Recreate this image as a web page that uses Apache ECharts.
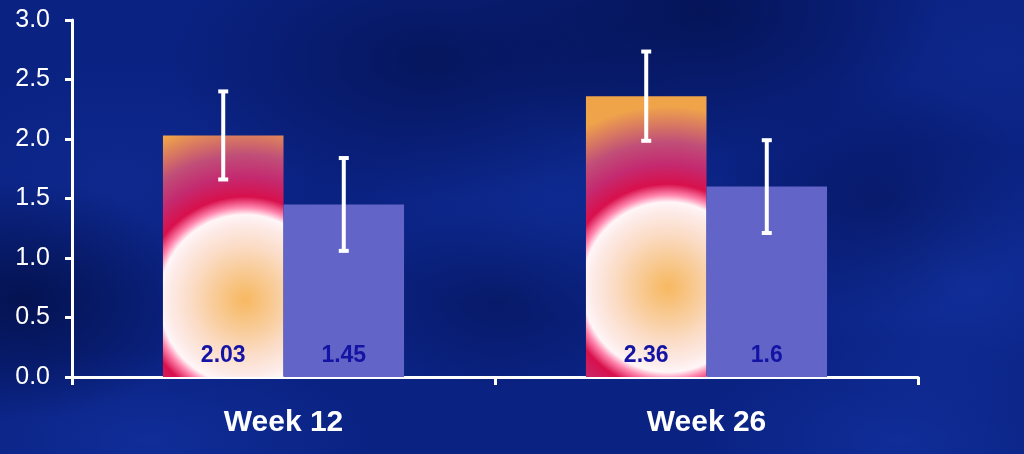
<!DOCTYPE html>
<html>
<head>
<meta charset="utf-8">
<script src="https://cdn.jsdelivr.net/npm/echarts@6/dist/echarts.min.js"></script>
<style>
  html, body { margin: 0; padding: 0; }
  body {
    width: 1024px; height: 454px; overflow: hidden;
    background-color: #0a2282;
    background-image:
      radial-gradient(ellipse 180px 120px at 20px 300px, rgba(2,12,60,0.7), rgba(2,12,60,0)),
      radial-gradient(ellipse 260px 140px at 430px 60px, rgba(3,14,70,0.6), rgba(3,14,70,0)),
      radial-gradient(ellipse 240px 150px at 700px 10px, rgba(3,14,70,0.7), rgba(3,14,70,0)),
      radial-gradient(ellipse 160px 120px at 880px 200px, rgba(4,16,80,0.5), rgba(4,16,80,0)),
      radial-gradient(ellipse 180px 140px at 960px 280px, rgba(24,60,180,0.5), rgba(24,60,180,0)),
      radial-gradient(ellipse 200px 120px at 560px 200px, rgba(22,56,170,0.35), rgba(22,56,170,0)),
      radial-gradient(ellipse 220px 90px at 150px 440px, rgba(24,60,180,0.45), rgba(24,60,180,0)),
      radial-gradient(ellipse 200px 100px at 900px 440px, rgba(24,60,180,0.45), rgba(24,60,180,0)),
      radial-gradient(ellipse 200px 120px at 120px 180px, rgba(20,50,160,0.4), rgba(20,50,160,0)),
      radial-gradient(ellipse 140px 90px at 500px 300px, rgba(3,14,70,0.45), rgba(3,14,70,0)),
      radial-gradient(ellipse 160px 100px at 1000px 60px, rgba(18,46,150,0.45), rgba(18,46,150,0));
  }
  #chart { width: 1024px; height: 454px; }
</style>
</head>
<body>
<div id="chart"></div>
<script>
// ---- data ----
var categories = ['Week 12', 'Week 26'];
var seriesA = [2.03, 2.36];
var seriesB = [1.45, 1.6];
var errA = [0.37, 0.375];
var errB = [0.39, 0.39];
var yTicks = ['0.0', '0.5', '1.0', '1.5', '2.0', '2.5', '3.0'];

var chart = echarts.init(document.getElementById('chart'), null, { renderer: 'canvas' });

var gapPct = 43;
var gradA = {
  type: 'radial', x: 0.68, y: 0.68, r: 1.5,
  colorStops: [
    { offset: 0.0, color: '#f7b860' },
    { offset: 0.14, color: '#f8c88e' },
    { offset: 0.3, color: '#fbdcc6' },
    { offset: 0.42, color: '#fdebe8' },
    { offset: 0.47, color: '#fff6f8' },
    { offset: 0.51, color: '#ff86ae' },
    { offset: 0.57, color: '#d8104c' },
    { offset: 0.68, color: '#c42a70' },
    { offset: 0.8, color: '#c04e78' },
    { offset: 1.0, color: '#f0a44a' }
  ]
};

function errRender(errArr, valArr, side) {
  return function (params, api) {
    var i = params.dataIndex;
    var v = valArr[i], e = errArr[i];
    var catW = api.size([1, 0])[0];
    var barW = catW * (1 - gapPct / 100) / 2;
    var base = api.coord([i, v]);
    var cx = base[0] + side * barW / 2;
    var top = api.coord([i, v + e])[1];
    var bot = api.coord([i, v - e])[1];
    var cap = 5;
    var style = { stroke: '#ffffff', lineWidth: 4 };
    return {
      type: 'group',
      children: [
        { type: 'line', shape: { x1: cx, y1: top, x2: cx, y2: bot }, style: style },
        { type: 'line', shape: { x1: cx - cap, y1: top, x2: cx + cap, y2: top }, style: { stroke: '#ffffff', lineWidth: 4 } },
        { type: 'line', shape: { x1: cx - cap, y1: bot, x2: cx + cap, y2: bot }, style: { stroke: '#ffffff', lineWidth: 4 } }
      ]
    };
  };
}

var labelStyle = {
  show: true, position: 'insideBottom', distance: 10,
  color: '#1414a4', fontSize: 23, fontWeight: 'bold',
  fontFamily: 'Liberation Sans, Arial, sans-serif',
  formatter: function (p) { return String(p.value); }
};

chart.setOption({
  backgroundColor: 'transparent',
  animation: false,
  grid: { left: 72, right: 106, top: 20, bottom: 77, containLabel: false },
  xAxis: {
    type: 'category', data: categories,
    axisLine: { lineStyle: { color: '#ffffff', width: 3 } },
    axisTick: { show: true, length: 8, lineStyle: { color: '#ffffff', width: 3 } },
    axisLabel: {
      color: '#ffffff', fontSize: 30, fontWeight: 'bold', margin: 31,
      fontFamily: 'Liberation Sans, Arial, sans-serif'
    },
    splitLine: { show: false }
  },
  yAxis: {
    type: 'value', min: 0, max: 3, interval: 0.5,
    axisLine: { show: true, lineStyle: { color: '#ffffff', width: 3 } },
    axisTick: { show: true, length: 7, lineStyle: { color: '#ffffff', width: 3 } },
    axisLabel: {
      color: '#ffffff', fontSize: 25, margin: 22,
      fontFamily: 'Liberation Sans, Arial, sans-serif',
      formatter: function (v) { return yTicks[Math.round(v / 0.5)]; }
    },
    splitLine: { show: false }
  },
  series: [
    {
      type: 'bar', name: 'A', data: seriesA,
      barGap: '0%', barCategoryGap: gapPct + '%',
      itemStyle: { color: gradA },
      label: labelStyle
    },
    {
      type: 'bar', name: 'B', data: seriesB,
      barGap: '0%', barCategoryGap: gapPct + '%',
      itemStyle: { color: '#6264c8' },
      label: labelStyle
    },
    {
      type: 'custom', name: 'errA', data: seriesA.map(function (v, i) { return [i, v]; }),
      renderItem: errRender(errA, seriesA, -1), z: 10, silent: true
    },
    {
      type: 'custom', name: 'errB', data: seriesB.map(function (v, i) { return [i, v]; }),
      renderItem: errRender(errB, seriesB, 1), z: 10, silent: true
    }
  ]
});
</script>
</body>
</html>
